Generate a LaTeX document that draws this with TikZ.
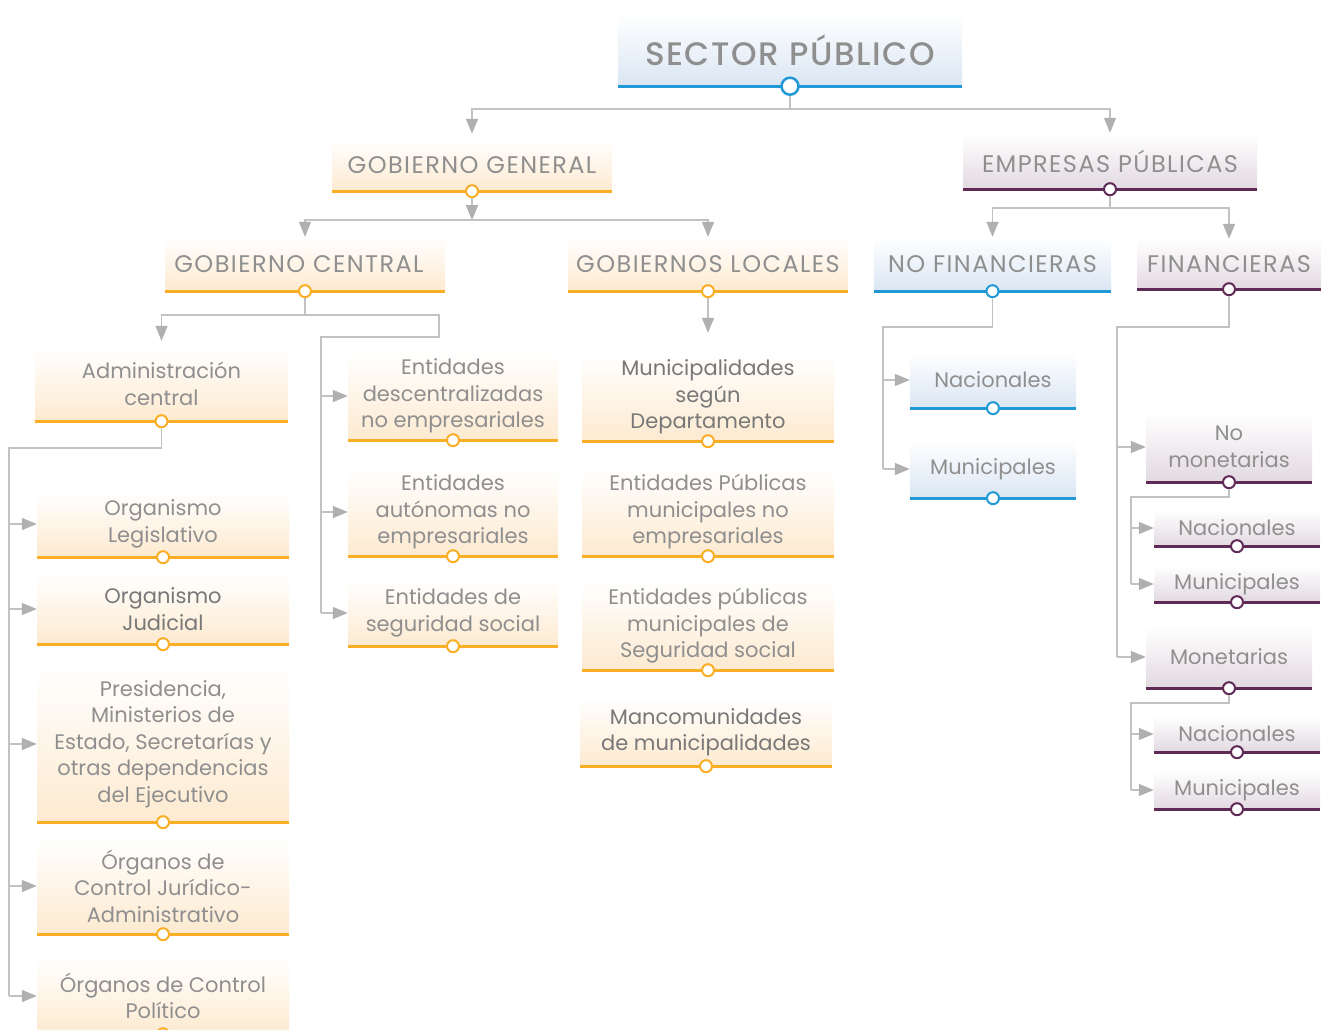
\documentclass[tikz,border=0pt]{standalone}
\usepackage{fontspec}
\setmainfont{Poppins}
\IfFontExistsTF{Poppins Medium}{\newfontfamily\medfont{Poppins Medium}}{\newcommand{\medfont}{\bfseries}}
\newcommand{\capsfont}{\fontsize{24}{28}\selectfont\addfontfeature{LetterSpace=6}}
\usetikzlibrary{arrows.meta, positioning}

\definecolor{txtgray}{HTML}{8F8F8F}
\definecolor{txtdark}{HTML}{787878}
\definecolor{conngray}{HTML}{C2C2C2}
\definecolor{tipgray}{HTML}{B0B0B0}
\definecolor{orline}{HTML}{F9AE25}
\definecolor{orfill}{HTML}{FDEAD0}
\definecolor{blline}{HTML}{2199D6}
\definecolor{blfill}{HTML}{DAE6F3}
\definecolor{puline}{HTML}{5F2A55}
\definecolor{pufill}{HTML}{E2D9E1}

\tikzset{
  box/.style={rectangle, inner sep=0pt, align=center, text=txtgray,
    font=\fontsize{21}{26.5}\selectfont},
  or box/.style={box, top color=white, bottom color=orfill},
  bl box/.style={box, top color=white, bottom color=blfill},
  pu box/.style={box, top color=white, bottom color=pufill},
  or line/.style={draw=orline, line width=3pt},
  bl line/.style={draw=blline, line width=3pt},
  pu line/.style={draw=puline, line width=3pt},
  dot/.style={circle, fill=white, line width=2pt, minimum size=12pt, inner sep=0pt},
  or dot/.style={dot, draw=orline},
  bl dot/.style={dot, draw=blline},
  pu dot/.style={dot, draw=puline},
  conn/.style={draw=conngray, line width=1.5pt},
  arr/.style={conn, -{Triangle[length=15pt,width=12pt,color=tipgray]}}
}

% box with underline and dot: name, colour, left, right, text y, line y, text
\newcommand{\ubox}[7]{%
  \node[#2 box, minimum width={#4-#3}, minimum height={2*(#6-#5)}] (#1) at ({(#3+#4)/2},#5) {#7};
  \draw[#2 line] (#1.south west) -- (#1.south east);
  \node[#2 dot] (#1-o) at (#1.south) {};
}

\begin{document}
\begin{tikzpicture}[x=1pt, y=-1pt]
  \useasboundingbox (0,0) rectangle (1325,1030);

  % top
  \node[bl box, minimum width=344, minimum height=72, font=\fontsize{32.5}{36}\selectfont\medfont\addfontfeature{LetterSpace=5}] (sp) at (790,50) {SECTOR PÚBLICO};
  \draw[bl line] (sp.south west) -- (sp.south east);
  \node[bl dot, minimum size=17pt, line width=2.5pt] (sp-o) at (sp.south) {};

  % second and third level
  \ubox{gg}{or}{332}{612}{165}{191}{\capsfont GOBIERNO GENERAL}
  \ubox{ep}{pu}{963}{1257}{161}{189}{\capsfont EMPRESAS PÚBLICAS}
  \ubox{gc}{or}{165}{445}{264}{291}{\capsfont GOBIERNO CENTRAL\hspace{12pt}}
  \ubox{gl}{or}{568}{848}{264}{291}{\capsfont GOBIERNOS LOCALES}
  \ubox{nf}{bl}{874}{1111}{264}{291}{\capsfont NO FINANCIERAS}
  \ubox{fi}{pu}{1137}{1321}{264}{289}{\capsfont FINANCIERAS}

  % gobierno central
  \ubox{ac}{or}{35}{288}{384}{421}{Administración\\central}
  \ubox{ol}{or}{37}{289}{524}{557}{Organismo\\Legislativo}
  \ubox{oj}{or}{37}{289}{609}{644}{\color{txtdark}Organismo\\\color{txtdark}Judicial}
  \ubox{pr}{or}{37}{289}{744}{822}{Presidencia,\\Ministerios de\\Estado, Secretarías y\\otras dependencias\\del Ejecutivo}
  \ubox{ocj}{or}{37}{289}{886}{934}{Órganos de\\Control Jurídico-\\Administrativo}
  \ubox{ocp}{or}{37}{289}{996}{1034}{Órganos de Control\\Político}
  \ubox{ed}{or}{348}{558}{396}{440}{Entidades\\descentralizadas\\no empresariales}
  \ubox{ea}{or}{348}{558}{512}{556}{Entidades\\autónomas no\\empresariales}
  \ubox{es}{or}{348}{558}{613}{646}{Entidades de\\seguridad social}

  % gobiernos locales
  \ubox{md}{or}{582}{834}{397}{441}{\color{txtdark}Municipalidades\\\color{txtdark}según\\\color{txtdark}Departamento}
  \ubox{mp}{or}{582}{834}{512}{556}{Entidades Públicas\\municipales no\\empresariales}
  \ubox{ms}{or}{582}{834}{626}{670}{Entidades públicas\\municipales de\\Seguridad social}
  \ubox{mm}{or}{580}{832}{732}{766}{\color{txtdark}Mancomunidades\\\color{txtdark}de municipalidades}

  % empresas
  \ubox{nfn}{bl}{910}{1076}{380}{408}{Nacionales}
  \ubox{nfm}{bl}{910}{1076}{469}{498}{Municipales}
  \ubox{nm}{pu}{1146}{1312}{447}{482}{No\\monetarias}
  \ubox{nmn}{pu}{1154}{1320}{528}{546}{Nacionales}
  \ubox{nmm}{pu}{1154}{1320}{584}{602}{Municipales}
  \ubox{mo}{pu}{1146}{1312}{657}{688}{Monetarias}
  \ubox{mon}{pu}{1154}{1320}{734}{752}{Nacionales}
  \ubox{mom}{pu}{1154}{1320}{790}{809}{Municipales}

  % connectors
  \draw[arr, shorten >=5pt] (sp-o) -- ++(0,23) -| (gg.north);
  \draw[arr] (sp-o) -- ++(0,23) -| (ep.north);
  \draw[arr] (gg-o) -- ++(0,29) coordinate (gg-j);
  \draw[arr] (gg-j) -| (gc.north);
  \draw[arr] (gg-j) -| (gl.north);
  \draw[arr] (ep-o) -- ++(0,19) -| (nf.north);
  \draw[arr] (ep-o) -- ++(0,19) -| (fi.north);

  \draw[arr, shorten >=6pt] (gc-o) -- ++(0,24) -| (ac.north);
  \coordinate (gc-r) at (439,337);
  \coordinate (gc-t) at (321,337);
  \draw[conn] (gc-o) -- ++(0,24) -| (gc-r) -- (gc-t) -- (gc-t |- es.west);
  \foreach \n in {ed,ea,es}
    \draw[arr] (gc-t |- \n.west) -- (\n.west);

  \draw[arr, shorten >=20pt] (gl-o) -- (md.north);

  \coordinate (ac-t) at (9,448);
  \draw[conn] (ac-o) |- (ac-t) -- (ac-t |- ocp.west);
  \foreach \n in {ol,oj,pr,ocj,ocp}
    \draw[arr] (ac-t |- \n.west) -- (\n.west);

  \coordinate (nf-t) at (883,327);
  \draw[conn] (nf-o) |- (nf-t) -- (nf-t |- nfm.west);
  \foreach \n in {nfn,nfm}
    \draw[arr] (nf-t |- \n.west) -- (\n.west);

  \coordinate (fi-t) at (1117,327);
  \draw[conn] (fi-o) |- (fi-t) -- (fi-t |- mo.west);
  \foreach \n in {nm,mo}
    \draw[arr] (fi-t |- \n.west) -- (\n.west);

  \coordinate (nm-t) at (1131,497);
  \draw[conn] (nm-o) |- (nm-t) -- (nm-t |- nmm.west);
  \foreach \n in {nmn,nmm}
    \draw[arr] (nm-t |- \n.west) -- (\n.west);

  \coordinate (mo-t) at (1131,703);
  \draw[conn] (mo-o) |- (mo-t) -- (mo-t |- mom.west);
  \foreach \n in {mon,mom}
    \draw[arr] (mo-t |- \n.west) -- (\n.west);
\end{tikzpicture}
\end{document}
